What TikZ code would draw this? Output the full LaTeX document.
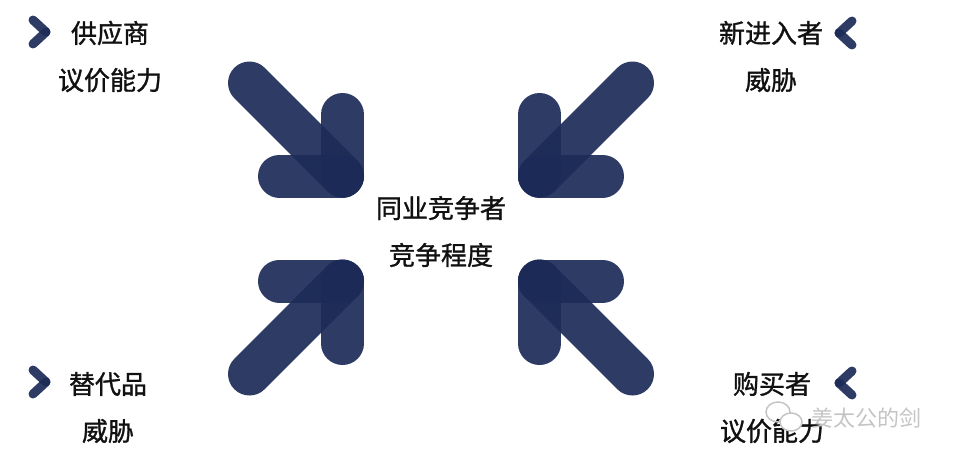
\documentclass[tikz,border=0pt]{standalone}
\usepackage{fontspec}
\usepackage{tikz}
\usepackage{xcolor}
\setmainfont{Noto Sans CJK SC}[BoldFont=*, BoldFeatures={FakeBold=1.2}]
\definecolor{navyink}{RGB}{28,42,87}
\definecolor{labelink}{RGB}{17,17,17}
\definecolor{markgray}{RGB}{196,196,196}
\tikzset{
    armbar/.style={line width=43pt, line cap=round, draw=navyink, draw opacity=0.92},
    chevbar/.style={line width=9pt, line cap=round, draw=navyink, draw opacity=0.92},
    forcetext/.style={text=labelink, align=center, inner sep=0pt, font=\fontsize{26}{47}\selectfont\bfseries}
}

\begin{document}
\begin{tikzpicture}[x=1pt, y=-1pt]
            \useasboundingbox (0,0) rectangle (954,461);

            \coordinate (cornerTL) at (342.5,176);
            \coordinate (cornerTR) at (539.5,176);
            \coordinate (cornerBL) at (342.5,281);
            \coordinate (cornerBR) at (539.5,281);

            \draw[armbar] (cornerTL)--(342.5,114.5);
            \draw[armbar] (cornerTL)--(279.5,176);
            \draw[armbar] (cornerTL)--(249.5,83);

            \draw[armbar] (cornerTR)--(539.5,114.5);
            \draw[armbar] (cornerTR)--(602.5,176);
            \draw[armbar] (cornerTR)--(632.5,83);

            \draw[armbar] (cornerBL)--(342.5,343.5);
            \draw[armbar] (cornerBL)--(279.5,281);
            \draw[armbar] (cornerBL)--(249.5,374);

            \draw[armbar] (cornerBR)--(539.5,343.5);
            \draw[armbar] (cornerBR)--(602.5,281);
            \draw[armbar] (cornerBR)--(632.5,374);

            \node[forcetext] (rivalry) at (441,231.5) {同业竞争者\\竞争程度};

            \node[forcetext] (supplier) at (110,56.5) {供应商\\议价能力};
            \node[forcetext] (entrant) at (771,56.5) {新进入者\\威胁};
            \node[forcetext] (substitute) at (108,407.5) {替代品\\威胁};
            \node[forcetext] (buyer) at (772,407.5) {购买者\\议价能力};

            \draw[chevbar] (33,20)--(46,32);
            \draw[chevbar] (46,32)--(33,44);
            \draw[chevbar] (852,21)--(839,33);
            \draw[chevbar] (839,33)--(852,45);
            \draw[chevbar] (33,370)--(46,382);
            \draw[chevbar] (46,382)--(33,394);
            \draw[chevbar] (852,371)--(839,383);
            \draw[chevbar] (839,383)--(852,395);

            \draw[markgray, line width=1.5pt] (778,412) ellipse (12 and 10);
            \draw[markgray, line width=1.5pt, fill=white] (791,422) ellipse (11 and 9);
            \node[text=markgray, inner sep=0pt, font=\fontsize{22}{24}\selectfont] (watermark) at (866,418) {姜太公的剑};
            \end{tikzpicture}
\end{document}
